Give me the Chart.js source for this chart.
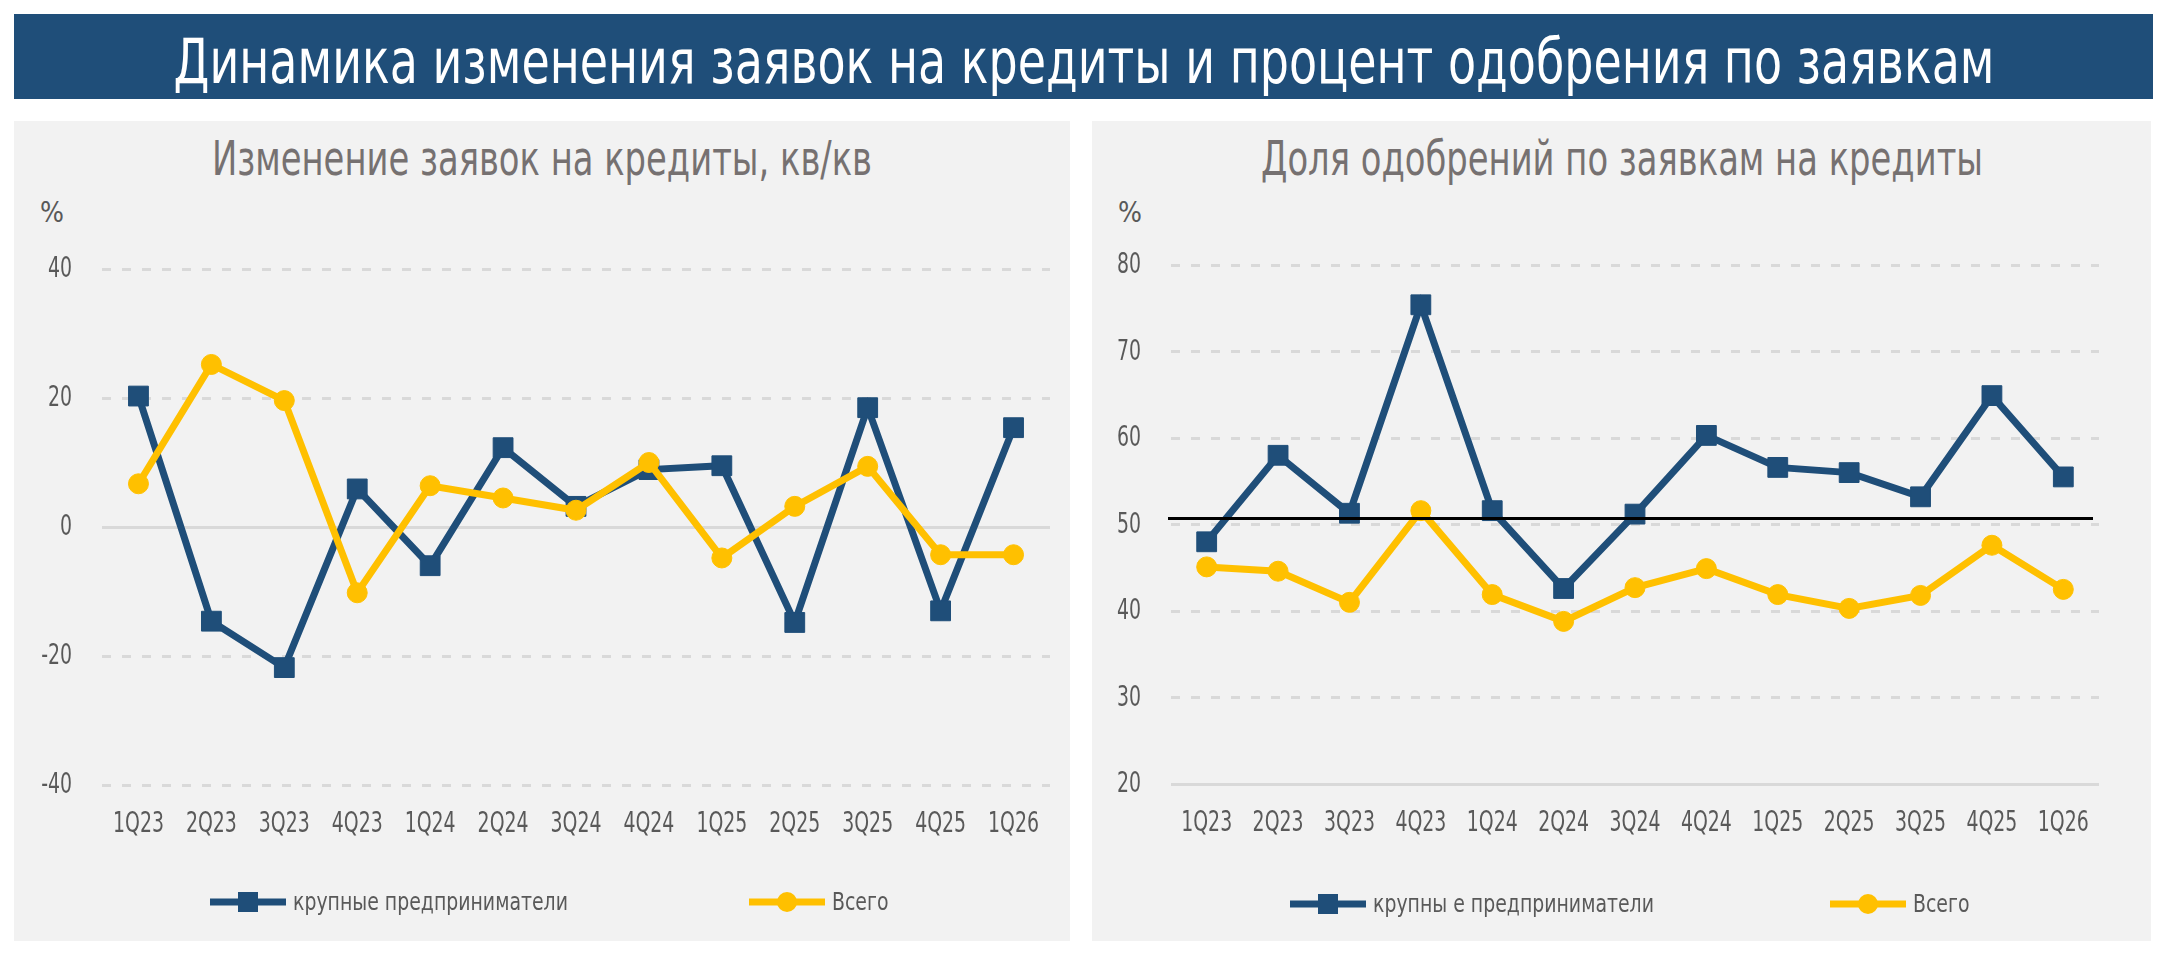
<!DOCTYPE html>
<html lang="ru">
<head>
<meta charset="UTF-8">
<title>Динамика изменения заявок на кредиты и процент одобрения по заявкам</title>
<script src="https://cdn.jsdelivr.net/npm/chart.js"></script>
<style>
  body { margin: 0; width: 2160px; height: 953px; background: #fff; position: relative; overflow: hidden;
         font-family: 'Liberation Sans Narrow', 'DejaVu Sans Condensed', 'Roboto Condensed', Roboto, sans-serif; }
  .banner { position: absolute; left: 14px; top: 14px; width: 2139px; height: 85px; background: #1f4e79; }
  .fit { position: absolute; left: 0; right: 0; white-space: nowrap; }
  .fit span { position: absolute; left: 50%; top: 0; display: inline-block; transform-origin: 50% 50%; }
  .banner .fit { top: 16px; height: 63px; font-size: 63px; line-height: 63px; color: #fff; }
  .panel { position: absolute; top: 121px; height: 820px; background: #f2f2f2; }
  #leftPanel { left: 14px; width: 1056px; }
  #rightPanel { left: 1092px; width: 1059px; }
  .panel .fit { top: 13px; height: 48px; font-size: 48px; line-height: 48px; color: #767171; }
  .pct { position: absolute; left: 26px; top: 78px; font-size: 28px; line-height: 28px; color: #595959; }
  canvas { position: absolute; left: 0; top: 0; }
</style>
</head>
<body>
  <div class="banner"><div class="fit" data-w="1821"><span>Динамика изменения заявок на кредиты и процент одобрения по заявкам</span></div></div>

  <div class="panel" id="leftPanel">
    <div class="fit" data-w="660"><span>Изменение заявок на кредиты, кв/кв</span></div>
    <div class="pct">%</div>
    <canvas id="changeChart" width="1056" height="820"></canvas>
  </div>

  <div class="panel" id="rightPanel">
    <div class="fit" data-w="722"><span>Доля одобрений по заявкам на кредиты</span></div>
    <div class="pct">%</div>
    <canvas id="approvalChart" width="1059" height="820"></canvas>
  </div>

<script>
// data
const quarters = ['1Q23', '2Q23', '3Q23', '4Q23', '1Q24', '2Q24', '3Q24', '4Q24', '1Q25', '2Q25', '3Q25', '4Q25', '1Q26'];

// left: change in loan applications, q/q, %
const changeLarge = [20.3, -14.6, -21.8, 5.9, -6.0, 12.3, 3.2, 8.9, 9.5, -14.8, 18.5, -13.0, 15.4];
const changeTotal = [6.7, 25.2, 19.6, -10.2, 6.4, 4.5, 2.6, 10.0, -4.8, 3.2, 9.4, -4.3, -4.3];
const changeTicks = { min: -40, max: 40, step: 20 };

// right: share of approved applications, %
const approvalLarge = [48.0, 58.0, 51.3, 75.4, 51.6, 42.6, 51.2, 60.3, 56.6, 56.0, 53.2, 64.9, 55.5];
const approvalTotal = [45.1, 44.6, 41.0, 51.6, 41.9, 38.8, 42.7, 44.9, 41.9, 40.3, 41.8, 47.6, 42.5];
const approvalTicks = { min: 20, max: 80, step: 10 };
const approvalRefLine = 50.7;

const seriesNames = ['крупные предприниматели', 'Всего'];
const seriesNamesRight = ['крупны е предприниматели', 'Всего'];

const BLUE = '#1f4e79';
const GOLD = '#ffc000';
const TEXT = '#595959';
const FONT = "'Liberation Sans Narrow', 'DejaVu Sans Condensed', 'Roboto Condensed', Roboto, sans-serif";

Chart.defaults.font.family = FONT;
Chart.defaults.color = TEXT;

// squeeze headings to the width they take in the original
document.querySelectorAll('.fit').forEach(el => {
  const span = el.querySelector('span');
  const w = span.getBoundingClientRect().width;
  span.style.transform = 'translateX(-50%) scaleX(' + (+el.dataset.w / w) + ')';
});

// the original uses a condensed face, so text on the canvas is squeezed
function squeezedText(ctx, text, x, y, align, sx) {
  ctx.save();
  ctx.translate(x, y);
  ctx.scale(sx, 1);
  ctx.textAlign = align;
  ctx.textBaseline = 'middle';
  ctx.fillText(text, 0, 0);
  ctx.restore();
}

// tick labels, placed by the chart's own scales
const narrowTicks = {
  id: 'narrowTicks',
  afterDraw(chart) {
    const { ctx, scales } = chart;
    ctx.save();
    ctx.fillStyle = TEXT;
    ctx.font = '28px ' + FONT;
    scales.x.ticks.forEach((t, i) => {
      squeezedText(ctx, t.label, scales.x.getPixelForTick(i), scales.x.top + 40, 'center', 0.75);
    });
    scales.y.ticks.forEach((t, i) => {
      squeezedText(ctx, t.label, scales.y.right - 30, scales.y.getPixelForTick(i) + 1, 'right', 0.75);
    });
    ctx.restore();
  }
};

// legend: line + marker + text, drawn under the plot
const lineLegend = {
  id: 'lineLegend',
  afterDraw(chart, args, opts) {
    if (!opts.items) return;
    const ctx = chart.ctx;
    ctx.save();
    chart.data.datasets.forEach((ds, i) => {
      const it = opts.items[i];
      const y = opts.y;
      ctx.strokeStyle = ds.borderColor;
      ctx.lineWidth = ds.borderWidth;
      ctx.beginPath();
      ctx.moveTo(it.x, y);
      ctx.lineTo(it.x + 76, y);
      ctx.stroke();
      ctx.fillStyle = ds.pointBackgroundColor;
      const cx = it.x + 38;
      if (ds.pointStyle === 'rect') {
        ctx.fillRect(cx - 10, y - 10, 20, 20);
      } else {
        ctx.beginPath();
        ctx.arc(cx, y, 10, 0, Math.PI * 2);
        ctx.fill();
      }
      ctx.fillStyle = TEXT;
      ctx.font = '25px ' + FONT;
      squeezedText(ctx, ds.label, it.x + 83, y + 1, 'left', 0.84);
    });
    ctx.restore();
  }
};

// horizontal reference line
const refLine = {
  id: 'refLine',
  afterDatasetsDraw(chart, args, opts) {
    if (opts.value == null) return;
    const { ctx, chartArea, scales } = chart;
    const y = scales.y.getPixelForValue(opts.value);
    ctx.save();
    ctx.strokeStyle = '#000';
    ctx.lineWidth = 3;
    ctx.beginPath();
    ctx.moveTo(chartArea.left - 3, y);
    ctx.lineTo(chartArea.right - 6, y);
    ctx.stroke();
    ctx.restore();
  }
};

function makeChart(id, large, total, names, ticks, solidAt, yWidth, padding, legendItems, legendY, ref) {
  return new Chart(document.getElementById(id), {
    type: 'line',
    data: {
      labels: quarters,
      datasets: [{
        label: names[0],
        data: large,
        borderColor: BLUE,
        backgroundColor: BLUE,
        pointBackgroundColor: BLUE,
        pointBorderColor: BLUE,
        borderWidth: 7,
        pointStyle: 'rect',
        pointRadius: 14,
        pointBorderWidth: 1,
        tension: 0,
        order: 1
      }, {
        label: names[1],
        data: total,
        borderColor: GOLD,
        backgroundColor: GOLD,
        pointBackgroundColor: GOLD,
        pointBorderColor: GOLD,
        borderWidth: 7,
        pointStyle: 'circle',
        pointRadius: 10,
        pointBorderWidth: 1,
        tension: 0,
        order: 0
      }]
    },
    options: {
      responsive: false,
      animation: false,
      layout: { padding: padding },
      plugins: {
        legend: { display: false },
        tooltip: { enabled: false },
        lineLegend: { items: legendItems, y: legendY },
        refLine: { value: ref }
      },
      scales: {
        x: {
          offset: true,
          grid: { display: false, drawTicks: false },
          border: { display: false },
          ticks: { display: false, autoSkip: false, maxRotation: 0 },
          afterFit: s => { s.height = 60; }
        },
        y: {
          min: ticks.min,
          max: ticks.max,
          grid: { color: '#d9d9d9', lineWidth: 3, drawTicks: false },
          border: {
            display: false,
            dash: c => (c.tick && c.tick.value === solidAt) ? [] : [9, 11]
          },
          ticks: { display: false, stepSize: ticks.step },
          afterFit: s => { s.width = yWidth; }
        }
      }
    },
    plugins: [narrowTicks, lineLegend, refLine]
  });
}

makeChart('changeChart', changeLarge, changeTotal, seriesNames, changeTicks, 0, 88,
  { left: 0, top: 148, right: 20, bottom: 96 },
  [{ x: 196 }, { x: 735 }], 781, null);

makeChart('approvalChart', approvalLarge, approvalTotal, seriesNamesRight, approvalTicks, 20, 79,
  { left: 0, top: 144, right: 52, bottom: 97 },
  [{ x: 198 }, { x: 738 }], 783, approvalRefLine);
</script>
</body>
</html>
